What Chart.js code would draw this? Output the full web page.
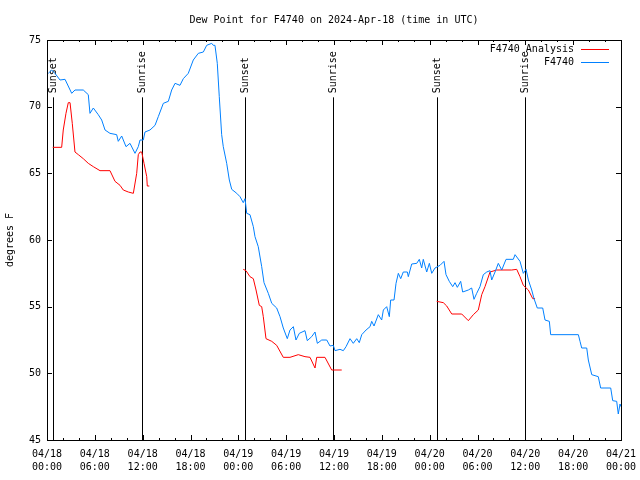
<!DOCTYPE html>
<html>
<head>
<meta charset="utf-8">
<title>Dew Point F4740</title>
<script src="https://cdn.jsdelivr.net/npm/chart.js@4/dist/chart.umd.min.js"></script>
<style>
  body { margin: 0; background: #fff; }
  canvas { display: block; }
</style>
</head>
<body>
<canvas id="dewChart" width="640" height="480"></canvas>
<script>
// hours since 04/18 00:00 UTC
const obsHours = [
    0.16, 0.59, 1.0, 1.63, 2.26, 3.1, 3.51, 4.55, 5.18, 5.39,
    5.81, 6.43, 6.86, 7.28, 7.9, 8.74, 8.94, 9.37, 9.91, 10.41,
    11.04, 11.45, 11.67, 12.08, 12.29, 12.92, 13.55, 13.96, 14.59, 15.22,
    15.64, 16.06, 16.68, 17.1, 17.72, 18.35, 18.98, 19.61, 20.03, 20.66,
    20.86, 21.07, 21.36, 21.61, 21.91, 22.11, 22.54, 22.87, 23.17, 23.8,
    24.21, 24.62, 24.84, 25.05, 25.46, 25.88, 26.09, 26.5, 26.93, 27.22,
    27.76, 28.19, 28.81, 29.23, 29.64, 30.14, 30.48, 30.9, 31.23, 31.65,
    32.36, 32.65, 33.2, 33.62, 33.91, 34.46, 35.09, 35.5, 35.91, 36.13,
    36.75, 37.17, 37.51, 38.01, 38.42, 38.85, 39.17, 39.48, 40.02, 40.52,
    40.73, 41.02, 41.56, 41.98, 42.19, 42.61, 42.94, 43.11, 43.53, 43.78,
    44.07, 44.37, 44.69, 45.2, 45.32, 45.75, 46.38, 46.7, 47.0, 47.2,
    47.63, 47.96, 48.26, 48.67, 49.3, 49.8, 50.05, 50.46, 50.89, 51.18,
    51.47, 51.89, 52.14, 52.85, 53.27, 53.56, 53.9, 54.31, 54.73, 55.16,
    55.57, 55.78, 56.2, 56.61, 57.04, 57.58, 58.49, 58.71, 59.33, 59.75,
    60.09, 60.38, 60.8, 61.09, 61.5, 62.18, 62.47, 63.01, 63.18, 66.65,
    66.86, 67.07, 67.7, 67.9, 68.33, 69.15, 69.45, 70.71, 70.96, 71.46,
    71.66, 71.88, 72.0
];
const obsDewPoint = [
    72.5, 72.75, 72.5, 72.0, 72.05, 71.0, 71.25, 71.25, 70.9, 69.5,
    69.9, 69.4, 69.0, 68.25, 68.0, 67.9, 67.4, 67.8, 67.0, 67.25,
    66.5, 67.0, 67.5, 67.5, 68.1, 68.25, 68.6, 69.25, 70.25, 70.4,
    71.25, 71.75, 71.6, 72.1, 72.5, 73.5, 74.0, 74.1, 74.6, 74.75,
    74.6, 74.6, 73.25, 70.75, 67.9, 67.0, 65.75, 64.5, 63.8, 63.5,
    63.25, 62.8, 63.1, 62.0, 61.9, 61.0, 60.25, 59.5, 58.0, 56.8,
    56.0, 55.25, 54.9, 54.25, 53.4, 52.6, 53.25, 53.5, 52.5, 53.0,
    53.2, 52.45, 52.75, 53.1, 52.25, 52.5, 52.5, 52.05, 52.1, 51.7,
    51.8, 51.7, 52.0, 52.6, 52.25, 52.6, 52.3, 52.9, 53.25, 53.5,
    53.9, 53.55, 54.4, 54.0, 54.75, 55.0, 54.25, 55.5, 55.5, 56.75,
    57.5, 57.1, 57.6, 57.6, 57.25, 58.2, 58.25, 58.55, 57.9, 58.55,
    57.6, 58.25, 57.5, 57.9, 58.1, 58.4, 57.4, 56.9, 56.5, 56.8,
    56.45, 56.9, 56.1, 56.25, 56.4, 55.55, 56.0, 56.5, 57.4, 57.6,
    57.7, 57.0, 57.6, 58.25, 57.75, 58.55, 58.55, 58.9, 58.4, 57.5,
    57.8, 57.0, 56.25, 55.6, 54.9, 54.9, 54.0, 53.9, 52.9, 52.9,
    52.4, 51.9, 51.9, 51.0, 49.9, 49.75, 48.9, 48.9, 47.95, 47.9,
    46.95, 47.7, 47.5
];

// analysis runs, null marks a gap between runs
const analysisHours = [
    0.72, 1.84, 2.04, 2.38, 2.67, 2.89, 3.17, 3.51, 3.93, 4.55,
    5.18, 5.81, 6.65, 7.9, 8.53, 9.16, 9.57, 10.2, 10.83, 11.25,
    11.45, 11.67, 11.88, 12.17, 12.51, 12.58, 12.83,
    18,
    24.62, 24.96, 25.46, 25.88, 26.22, 26.63, 26.93, 27.13, 27.47, 28.19,
    28.81, 29.64, 30.48, 31.52, 32.36, 32.99, 33.62, 33.83, 34.87, 35.71,
    36.97,
    42,
    48.88, 49.71, 50.14, 50.77, 52.02, 52.85, 53.48, 54.1, 54.53, 54.94,
    55.57, 56.41, 58.29, 58.92, 59.33, 59.75, 60.38, 60.93, 61.22
];
const analysisDewPoint = [
    66.95, 66.95, 68.25, 69.5, 70.3, 70.3, 68.75, 66.6, 66.4, 66.1,
    65.75, 65.5, 65.2, 65.2, 64.4, 64.1, 63.75, 63.6, 63.5, 65.0,
    66.4, 66.6, 66.6, 65.75, 64.75, 64.05, 64.05,
    null,
    57.8, 57.7, 57.25, 57.1, 56.25, 55.1, 55.0, 54.25, 52.6, 52.4,
    52.1, 51.2, 51.2, 51.4, 51.25, 51.2, 50.4, 51.2, 51.2, 50.25,
    50.25,
    null,
    55.4, 55.3, 55.05, 54.45, 54.45, 53.95, 54.4, 54.75, 55.9, 56.5,
    57.6, 57.75, 57.75, 57.8, 57.25, 56.6, 56.25, 55.6, 55.6
];

const eventHours = [0.75, 11.92, 24.84, 35.9, 48.9, 59.97];
const eventNames = ["Sunset", "Sunrise", "Sunset", "Sunrise", "Sunset", "Sunrise"];

const tickLabels = [
    ["04/18", "00:00"], ["04/18", "06:00"], ["04/18", "12:00"], ["04/18", "18:00"],
    ["04/19", "00:00"], ["04/19", "06:00"], ["04/19", "12:00"], ["04/19", "18:00"],
    ["04/20", "00:00"], ["04/20", "06:00"], ["04/20", "12:00"], ["04/20", "18:00"],
    ["04/21", "00:00"]
];

const FONT = "'DejaVu Sans Mono', 'Liberation Mono', monospace";

function toPoints(xs, ys) {
    return xs.map((x, i) => ({ x: x, y: ys[i] }));
}

// frame, inward tics, sunrise/sunset markers and gnuplot style key
const gnuplotLook = {
    id: "gnuplotLook",
    beforeDatasetsDraw(chart) {
        const ctx = chart.ctx;
        const area = chart.chartArea;
        const xs = chart.scales.x;
        const ys = chart.scales.y;
        const top = ys.getPixelForValue(70.7);
        ctx.save();
        ctx.strokeStyle = "#000";
        ctx.lineWidth = 1;
        ctx.fillStyle = "#000";
        ctx.font = "10px " + FONT;
        ctx.textAlign = "left";
        ctx.textBaseline = "middle";
        eventHours.forEach((h, i) => {
            const px = Math.round(xs.getPixelForValue(h)) + 0.5;
            ctx.beginPath();
            ctx.moveTo(px, top);
            ctx.lineTo(px, area.bottom);
            ctx.stroke();
            ctx.save();
            ctx.translate(px, top - 4);
            ctx.rotate(-Math.PI / 2);
            ctx.fillText(eventNames[i], 0, 0);
            ctx.restore();
        });
        ctx.restore();
    },
    afterDatasetsDraw(chart) {
        const ctx = chart.ctx;
        const area = chart.chartArea;
        const xs = chart.scales.x;
        const ys = chart.scales.y;
        ctx.save();
        ctx.strokeStyle = "#000";
        ctx.lineWidth = 1;
        ctx.beginPath();
        for (let h = xs.min; h <= xs.max; h += 2) {
            const px = Math.round(xs.getPixelForValue(h)) + 0.5;
            const len = h % 6 === 0 ? 5 : 2;
            ctx.moveTo(px, area.bottom);
            ctx.lineTo(px, area.bottom - len);
            ctx.moveTo(px, area.top);
            ctx.lineTo(px, area.top + len);
        }
        ys.ticks.forEach(t => {
            const py = Math.round(ys.getPixelForValue(t.value)) + 0.5;
            ctx.moveTo(area.left, py);
            ctx.lineTo(area.left + 5, py);
            ctx.moveTo(area.right, py);
            ctx.lineTo(area.right - 5, py);
        });
        ctx.stroke();
        ctx.strokeRect(Math.round(area.left) + 0.5, Math.round(area.top) + 0.5,
            Math.round(area.right - area.left), Math.round(area.bottom - area.top));

        // key
        ctx.font = "10px " + FONT;
        ctx.textAlign = "right";
        ctx.textBaseline = "middle";
        ctx.fillStyle = "#000";
        chart.data.datasets.forEach((ds, i) => {
            const y = area.top + 9.5 + 13 * i;
            ctx.fillText(ds.label, area.right - 47, y);
            ctx.strokeStyle = ds.borderColor;
            ctx.beginPath();
            ctx.moveTo(area.right - 40, y);
            ctx.lineTo(area.right - 12, y);
            ctx.stroke();
        });
        ctx.restore();
    }
};

const ctx = document.getElementById("dewChart").getContext("2d");

new Chart(ctx, {
    type: "line",
    data: {
        datasets: [
            {
                label: "F4740 Analysis",
                data: toPoints(analysisHours, analysisDewPoint),
                borderColor: "#ff0000",
                borderWidth: 1,
                pointRadius: 0,
                spanGaps: false,
                order: 1
            },
            {
                label: "F4740",
                data: toPoints(obsHours, obsDewPoint),
                borderColor: "#0080ff",
                borderWidth: 1,
                pointRadius: 0,
                order: 0
            }
        ]
    },
    options: {
        responsive: false,
        animation: false,
        layout: { padding: { right: 19 } },
        plugins: {
            legend: { display: false },
            tooltip: { enabled: false },
            title: {
                display: true,
                text: "Dew Point for F4740 on 2024-Apr-18 (time in UTC)",
                fullSize: false,
                color: "#000",
                font: { family: FONT, size: 10, weight: "normal" },
                padding: { top: 14, bottom: 14 }
            }
        },
        scales: {
            x: {
                type: "linear",
                min: 0,
                max: 72,
                grid: { display: false, drawTicks: false },
                border: { display: false },
                ticks: {
                    stepSize: 6,
                    autoSkip: false,
                    maxRotation: 0,
                    padding: 8,
                    color: "#000",
                    font: { family: FONT, size: 10, lineHeight: 1.3 },
                    callback: (value, index) => tickLabels[index]
                },
                afterFit: scale => {
                    scale.height = 40;
                    scale.paddingLeft = 0;
                    scale.paddingRight = 0;
                }
            },
            y: {
                min: 45,
                max: 75,
                grid: { display: false, drawTicks: false },
                border: { display: false },
                ticks: {
                    stepSize: 5,
                    padding: 6,
                    color: "#000",
                    font: { family: FONT, size: 10 }
                },
                title: {
                    display: true,
                    text: "degrees F",
                    color: "#000",
                    font: { family: FONT, size: 10 },
                    padding: { top: 4, bottom: 4 }
                },
                afterFit: scale => { scale.width = 47; }
            }
        }
    },
    plugins: [gnuplotLook]
});
</script>
</body>
</html>
